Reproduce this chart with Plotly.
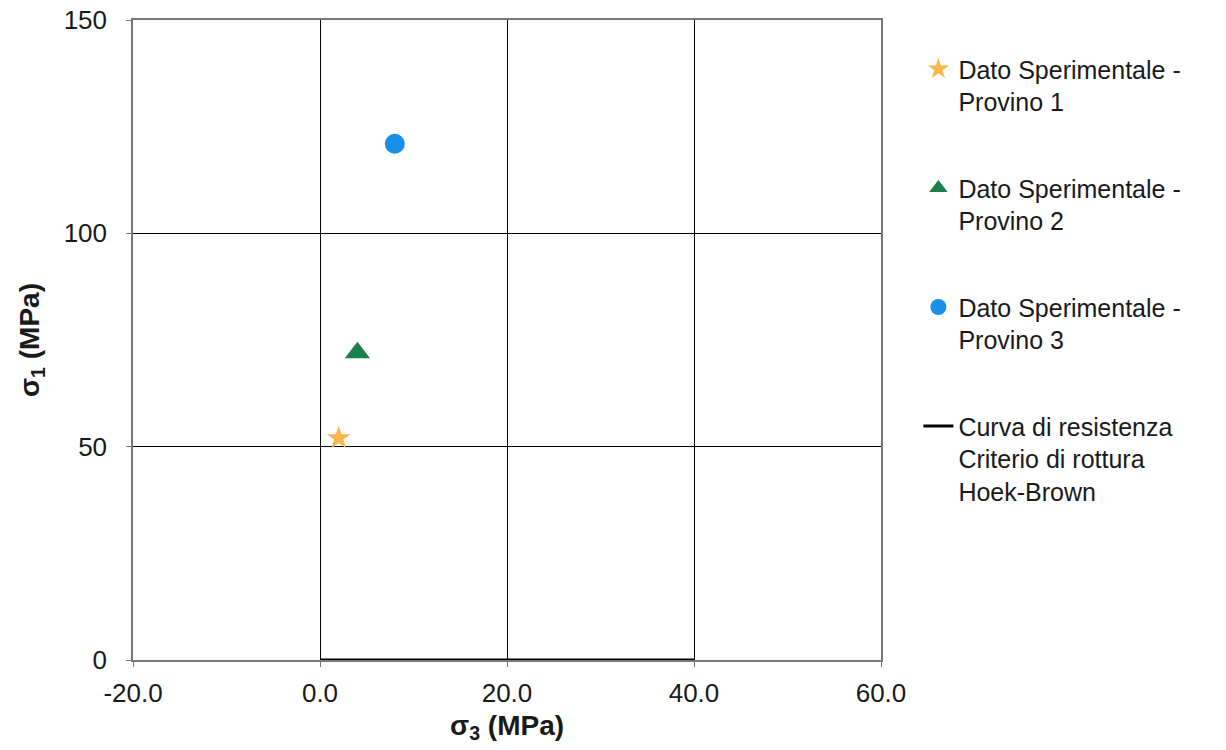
import plotly.graph_objects as go

# Data
p1_x = [2.0]
p1_y = [52.0]
p2_x = [4.0]
p2_y = [72.0]
p3_x = [8.0]
p3_y = [121.0]
curve_x = [0.0, 40.0]
curve_y = [0.0, 0.0]

x_tickvals = [-20, 0, 20, 40, 60]
x_ticktext = ["-20.0", "0.0", "20.0", "40.0", "60.0"]
y_tickvals = [0, 50, 100, 150]
y_ticktext = ["0", "50", "100", "150"]

names = [
    "Dato Sperimentale -<br>Provino 1",
    "Dato Sperimentale -<br>Provino 2",
    "Dato Sperimentale -<br>Provino 3",
    "Curva di resistenza<br>Criterio di rottura<br>Hoek-Brown",
]

fig = go.Figure()
fig.add_trace(go.Scatter(x=p1_x, y=p1_y, mode="markers", name=names[0], legendgroup="a",
                         marker=dict(symbol="star", size=18, color="#FDB54E")))
fig.add_trace(go.Scatter(x=p2_x, y=p2_y, mode="markers", name=names[1], legendgroup="b",
                         marker=dict(symbol="triangle-up", size=22, color="#1B7F4C")))
fig.add_trace(go.Scatter(x=p3_x, y=p3_y, mode="markers", name=names[2], legendgroup="c",
                         marker=dict(symbol="circle", size=20, color="#1A8FEA")))
fig.add_trace(go.Scatter(x=curve_x, y=curve_y, mode="lines", name=names[3], legendgroup="d",
                         line=dict(color="black", width=3)))

fig.update_layout(
    width=1226, height=750,
    margin=dict(l=133, r=345, t=20, b=90),
    paper_bgcolor="white", plot_bgcolor="white",
    font=dict(family="Liberation Sans, Arial, sans-serif", size=26, color="#1a1a1a"),
    legend=dict(x=1.05, y=0.959, xanchor="left", yanchor="top", valign="top",
                tracegroupgap=51, font=dict(size=25), bgcolor="rgba(0,0,0,0)"),
    xaxis=dict(range=[-20, 60], tickvals=x_tickvals, ticktext=x_ticktext,
               automargin=False,
               showgrid=True, gridcolor="black", gridwidth=1,
               showline=True, linecolor="#777", linewidth=1.5, mirror=True,
               ticks="outside", ticklen=5, tickcolor="#777", zeroline=False,
               ticklabelstandoff=4,
               title=dict(text="<b>σ<sub>3</sub> (MPa)</b>", font=dict(size=28), standoff=8)),
    yaxis=dict(range=[0, 150], tickvals=y_tickvals, ticktext=y_ticktext,
               automargin=False,
               showgrid=True, gridcolor="black", gridwidth=1,
               showline=True, linecolor="#777", linewidth=1.5, mirror=True,
               ticks="outside", ticklen=5, tickcolor="#777", zeroline=False,
               ticklabelstandoff=14,
               title=dict(text="<b>σ<sub>1</sub> (MPa)</b>", font=dict(size=28), standoff=16)),
)

fig.write_html("out.html", config={"displayModeBar": False},
               post_script="document.body.style.margin='0';")
